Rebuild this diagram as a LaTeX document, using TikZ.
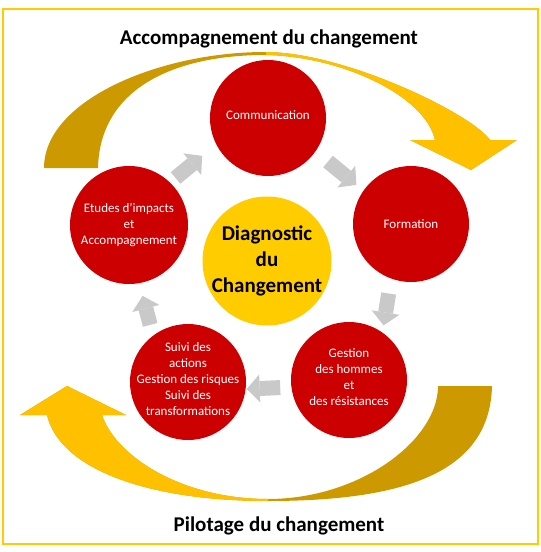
\documentclass[tikz,border=0pt]{standalone}
\usepackage{fontspec}
\setmainfont{Carlito}
\usepackage{xcolor}
\usetikzlibrary{arrows.meta}
\definecolor{rouge}{RGB}{204,0,0}
\definecolor{jaune}{RGB}{255,204,0}
\definecolor{or}{RGB}{204,153,0}
\definecolor{ambre}{RGB}{255,192,0}
\definecolor{gris}{RGB}{201,201,201}
\newcommand{\arctop}{(44,168) .. controls (44,100) and (160,52) .. (265,52)
  .. controls (345,52) and (472,114) .. (490,140)
  -- (517,140) -- (471,170) -- (410,140) -- (435,140)
  .. controls (425,95) and (340,56) .. (265,55)
  .. controls (180,55) and (100,85) .. (98,168) -- cycle}
\newcommand{\arcbot}{(492,386) .. controls (490,470) and (410,501) .. (268,501)
  .. controls (150,501) and (60,470) .. (47,415)
  -- (20,415) -- (67,386) -- (126,415) -- (102,415)
  .. controls (115,455) and (180,499) .. (268,499)
  .. controls (360,499) and (438,440) .. (438,386) -- cycle}

\begin{document}
\begin{tikzpicture}[x=1pt, y=-1pt,
  etape/.style={circle, fill=rouge, minimum size=116pt, inner sep=0pt},
  txt/.style={text=white, align=center, font=\fontsize{13}{16}\selectfont},
  fleche/.style={draw=gris, line width=15pt, -{Triangle[width=28pt,length=13pt,line width=0pt]}},
  titre/.style={font=\bfseries\fontsize{21}{25}\selectfont}]
\useasboundingbox (0,0) rectangle (541,552);
\draw[jaune, line width=2pt] (3,9) rectangle (538,544);

\fill[or] \arctop;
\begin{scope}
\clip (266,0) rectangle (541,280);
\fill[ambre] \arctop;
\end{scope}
\fill[or] \arcbot;
\begin{scope}
\clip (0,280) rectangle (268,552);
\fill[ambre] \arcbot;
\end{scope}

\node[titre] (Haut) at (269,39) {Accompagnement du changement};
\node[titre] (Bas) at (279,526) {Pilotage du changement};

\node[etape, label={[txt, yshift=3pt]center:Communication}] (Com) at (268,118) {};
\node[etape, label={[txt]center:Formation}] (For) at (411,224) {};
\node[etape, label={[txt, yshift=3pt]center:{Gestion\\des hommes\\et\\des résistances}}] (Ges) at (349,380) {};
\node[etape, label={[txt, yshift=3pt]center:{Suivi des\\actions\\Gestion des risques\\Suivi des\\transformations}}] (Sui) at (188,382) {};
\node[etape, minimum size=118pt, label={[txt]center:{Etudes d’impacts\\et\\Accompagnement}}] (Etu) at (129,225) {};
\node[circle, fill=jaune, minimum size=129pt, inner sep=0pt,
  label={[align=center, font=\bfseries\fontsize{21}{26}\selectfont]center:{Diagnostic\\du\\Changement}}] (Dia) at (267,261) {};

\draw[fleche, shorten <=7pt, shorten >=18pt] (Etu.46) -- (Com.207);
\draw[fleche, shorten <=16pt, shorten >=9pt] (Com.-35) -- (For.145);
\draw[fleche, shorten <=15pt, shorten >=7pt] (For.-110) -- (Ges.55);
\draw[fleche, shorten <=11pt, shorten >=1pt] (Ges.187) -- (Sui.-7);
\draw[fleche, shorten <=11pt, shorten >=13pt] (Sui.127) -- (Etu.-80);
\end{tikzpicture}
\end{document}
